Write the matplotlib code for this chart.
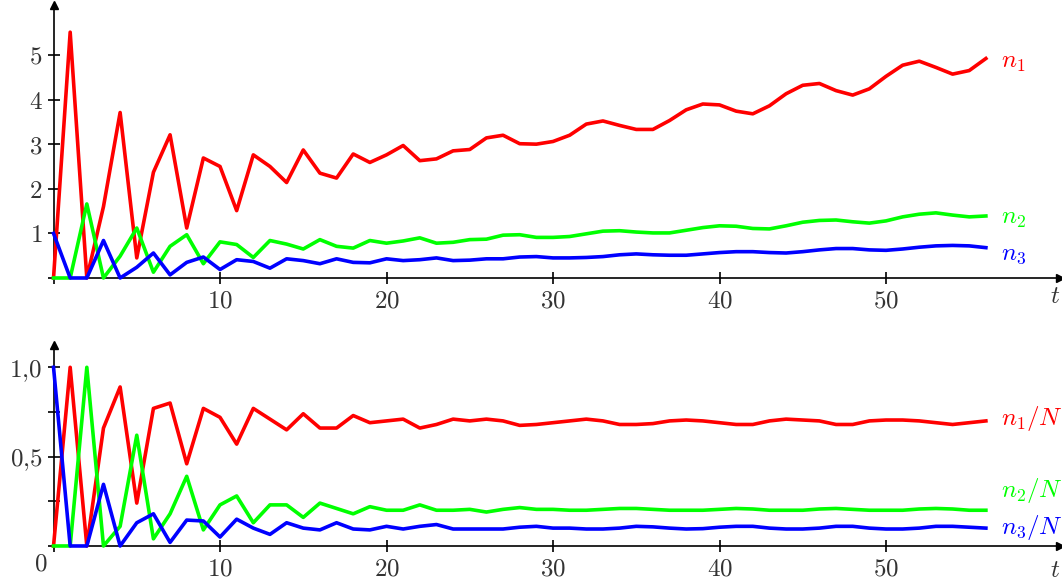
import numpy as np
import matplotlib
matplotlib.use("Agg")
import matplotlib.pyplot as plt

plt.rcParams["mathtext.fontset"] = "cm"
plt.rcParams["font.family"] = "DejaVu Serif"

# time steps
t = np.arange(0, 57)

# populations (top panel)
n1 = [0, 5.51, 0, 1.6, 3.71, 0.45, 2.37, 3.21, 1.12, 2.69,
      2.50, 1.51, 2.76, 2.50, 2.14, 2.87, 2.35, 2.24, 2.78, 2.59,
      2.76, 2.97, 2.63, 2.67, 2.85, 2.88, 3.14, 3.20, 3.01, 3.00,
      3.06, 3.20, 3.45, 3.52, 3.42, 3.33, 3.33, 3.53, 3.77, 3.90,
      3.88, 3.74, 3.68, 3.86, 4.13, 4.32, 4.36, 4.20, 4.10, 4.24,
      4.52, 4.77, 4.86, 4.72, 4.57, 4.65, 4.92]
n2 = [0, 0, 1.66, 0, 0.49, 1.12, 0.13, 0.71, 0.97, 0.32,
      0.81, 0.75, 0.46, 0.84, 0.76, 0.65, 0.86, 0.71, 0.67, 0.84,
      0.78, 0.83, 0.90, 0.78, 0.80, 0.86, 0.87, 0.96, 0.97, 0.91,
      0.91, 0.93, 0.99, 1.05, 1.06, 1.03, 1.01, 1.01, 1.07, 1.13,
      1.17, 1.16, 1.11, 1.10, 1.17, 1.25, 1.29, 1.30, 1.26, 1.23,
      1.28, 1.37, 1.43, 1.46, 1.41, 1.37, 1.39]
n3 = [1.0, 0, 0, 0.84, 0, 0.24, 0.56, 0.07, 0.35, 0.47,
      0.19, 0.41, 0.37, 0.22, 0.43, 0.39, 0.32, 0.43, 0.35, 0.34,
      0.43, 0.39, 0.41, 0.45, 0.39, 0.40, 0.43, 0.43, 0.47, 0.48,
      0.45, 0.45, 0.46, 0.48, 0.52, 0.54, 0.52, 0.51, 0.51, 0.54,
      0.57, 0.59, 0.59, 0.57, 0.56, 0.59, 0.63, 0.66, 0.66, 0.63,
      0.62, 0.65, 0.69, 0.72, 0.73, 0.72, 0.68]

# fractions (bottom panel)
f1 = [0, 1.0, 0, 0.66, 0.89, 0.24, 0.77, 0.80, 0.46, 0.77,
      0.72, 0.57, 0.77, 0.71, 0.65, 0.74, 0.66, 0.66, 0.73, 0.69,
      0.70, 0.71, 0.66, 0.68, 0.71, 0.70, 0.71, 0.70, 0.675, 0.68,
      0.69, 0.70, 0.71, 0.70, 0.68, 0.68, 0.685, 0.70, 0.705, 0.70,
      0.69, 0.68, 0.68, 0.70, 0.71, 0.705, 0.70, 0.68, 0.68, 0.70,
      0.705, 0.705, 0.70, 0.69, 0.68, 0.69, 0.70]
f2 = [0, 0, 1.0, 0, 0.11, 0.62, 0.04, 0.18, 0.39, 0.09,
      0.23, 0.28, 0.13, 0.23, 0.23, 0.16, 0.24, 0.21, 0.18, 0.22,
      0.20, 0.20, 0.23, 0.20, 0.20, 0.205, 0.19, 0.205, 0.215, 0.205,
      0.205, 0.20, 0.20, 0.205, 0.21, 0.21, 0.205, 0.20, 0.20, 0.20,
      0.205, 0.21, 0.207, 0.20, 0.20, 0.20, 0.207, 0.21, 0.205, 0.20,
      0.20, 0.20, 0.207, 0.21, 0.207, 0.20, 0.20]
f3 = [1.0, 0, 0, 0.345, 0, 0.13, 0.18, 0.02, 0.145, 0.14,
      0.05, 0.15, 0.10, 0.065, 0.13, 0.10, 0.09, 0.13, 0.095, 0.09,
      0.11, 0.095, 0.11, 0.12, 0.095, 0.095, 0.095, 0.095, 0.105, 0.11,
      0.10, 0.10, 0.095, 0.095, 0.10, 0.11, 0.107, 0.10, 0.095, 0.097,
      0.105, 0.11, 0.11, 0.10, 0.095, 0.095, 0.10, 0.11, 0.11, 0.10,
      0.095, 0.095, 0.10, 0.11, 0.11, 0.105, 0.10]

top_labels = ["$n_1$", "$n_2$", "$n_3$"]
bottom_labels = ["$n_1/N$", "$n_2/N$", "$n_3/N$"]
colors = ["#ff0000", "#00ff00", "#0000ff"]

xticks = [10, 20, 30, 40, 50]
xticklabels = ["$10$", "$20$", "$30$", "$40$", "$50$"]
top_yticks = [1, 2, 3, 4, 5]
top_yticklabels = ["$1$", "$2$", "$3$", "$4$", "$5$"]
bottom_yticks = [0.5, 1.0]
bottom_yticklabels = ["$0{,}5$", "$1{,}0$"]

fontsize = 18
labelcolor = "#333333"
xmax = 60.45

fig = plt.figure(figsize=(10.62, 5.85), dpi=100)
ax1 = fig.add_axes([0.0504, 0.5248, 0.9477, 0.4667])
ax2 = fig.add_axes([0.0504, 0.0667, 0.9477, 0.3436])


def style_axis(ax, ymax):
    ax.set_xlim(0, xmax)
    ax.set_ylim(0, ymax)
    ax.spines["top"].set_visible(False)
    ax.spines["right"].set_visible(False)
    for s in ("left", "bottom"):
        ax.spines[s].set_linewidth(1.2)
    ax.patch.set_alpha(0)
    # arrow heads
    ax.plot(1, 0, ">k", ms=6, transform=ax.get_yaxis_transform(), clip_on=False)
    ax.plot(0, 1, "^k", ms=6, transform=ax.get_xaxis_transform(), clip_on=False)
    ax.tick_params(direction="inout", length=8, width=1.2, labelsize=fontsize,
                   labelcolor=labelcolor)
    ax.tick_params(axis="x", pad=4)
    ax.tick_params(axis="y", pad=4)


# top panel
style_axis(ax1, 6.12)
for y, c in zip([n1, n2, n3], colors):
    ax1.plot(t, y, color=c, lw=2.6, clip_on=False, zorder=3)
ax1.set_xticks([0] + xticks)
ax1.set_xticklabels([""] + xticklabels)
ax1.set_yticks([0] + top_yticks)
ax1.set_yticklabels([""] + top_yticklabels)
label_y1 = [4.72, 1.21, 0.41]
for lab, c, yy in zip(top_labels, colors, label_y1):
    ax1.text(56.9, yy, lab, color=c, fontsize=fontsize, va="baseline", ha="left")
ax1.text(59.85, -0.55, "$t$", fontsize=fontsize, color=labelcolor,
         va="baseline", ha="left", clip_on=False)

# bottom panel
style_axis(ax2, 1.125)
for y, c in zip([f1, f2, f3], colors):
    ax2.plot(t, y, color=c, lw=2.6, clip_on=False, zorder=3)
ax2.set_xticks([0] + xticks)
ax2.set_xticklabels([""] + xticklabels)
ax2.set_yticks([0, 0.25, 0.5, 0.75, 1.0])
ax2.set_yticklabels(["", "", bottom_yticklabels[0], "", bottom_yticklabels[1]])
label_y2 = [0.677, 0.276, 0.065]
for lab, c, yy in zip(bottom_labels, colors, label_y2):
    ax2.text(56.9, yy, lab, color=c, fontsize=fontsize, va="baseline", ha="left")
ax2.text(59.85, -0.173, "$t$", fontsize=fontsize, color=labelcolor,
         va="baseline", ha="left", clip_on=False)
ax2.text(-0.75, -0.10, "$0$", fontsize=fontsize, color=labelcolor,
         va="center", ha="center", clip_on=False)

fig.savefig("out.png", dpi=100)
